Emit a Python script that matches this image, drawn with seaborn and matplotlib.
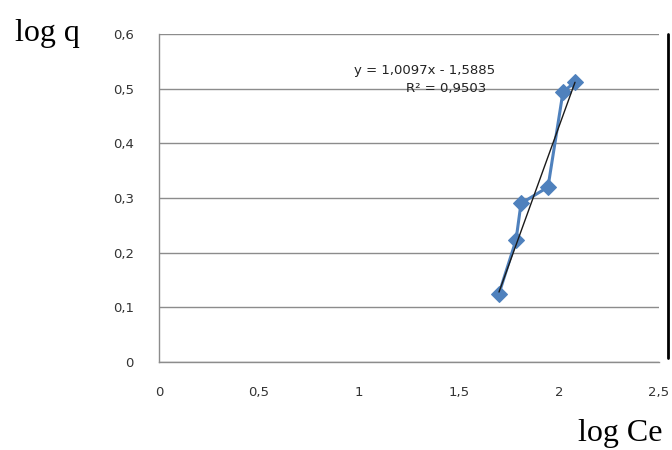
import matplotlib
matplotlib.use("Agg")
import matplotlib.pyplot as plt
import seaborn as sns
import numpy as np
import pandas as pd
from matplotlib.lines import Line2D

log_ce = [1.70, 1.785, 1.81, 1.945, 2.02, 2.08]
log_q = [0.125, 0.223, 0.290, 0.320, 0.494, 0.512]
slope = 1.0097
intercept = -1.5885
x_ticks = [0, 0.5, 1, 1.5, 2, 2.5]
x_labels = ["0", "0,5", "1", "1,5", "2", "2,5"]
y_ticks = [0, 0.1, 0.2, 0.3, 0.4, 0.5, 0.6]
y_labels = ["0", "0,1", "0,2", "0,3", "0,4", "0,5", "0,6"]

sns.set_theme(style="white")
plt.rcParams['font.family'] = ['DejaVu Sans']

fig = plt.figure(figsize=(6.72, 4.5), dpi=100)
ax = fig.add_axes([159/672, 1-362/450, (659-159)/672, (362-34)/450])

df = pd.DataFrame({"x": log_ce, "y": log_q})
sns.lineplot(data=df, x="x", y="y", ax=ax, color="#4F81BD", linewidth=2.2,
             marker="D", markersize=8, markeredgecolor="#4F81BD", sort=False)
tx = np.array([min(log_ce), max(log_ce)])
ax.plot(tx, slope*tx + intercept, color="#1a1a1a", linewidth=1.0, zorder=5)

ax.set_xlim(0, 2.5)
ax.set_ylim(0, 0.6)
ax.set_xticks(x_ticks)
ax.set_xticklabels(x_labels)
ax.set_yticks(y_ticks)
ax.set_yticklabels(y_labels)
ax.set_xlabel("")
ax.set_ylabel("")
ax.yaxis.grid(True, color="#8c8c8c", linewidth=1)
ax.xaxis.grid(False)
for s in ["top", "right"]:
    ax.spines[s].set_visible(False)
for s in ["left", "bottom"]:
    ax.spines[s].set_color("#8c8c8c")
    ax.spines[s].set_linewidth(1)
ax.tick_params(axis="both", which="both", labelsize=9.5, labelcolor="#333333",
               color="#8c8c8c", width=1)
ax.tick_params(axis="x", direction="inout", length=6, pad=14)
ax.tick_params(axis="y", direction="out", length=6, pad=12)

ax.text(0.532, 0.890, "y = 1,0097x - 1,5885", transform=ax.transAxes,
        ha="center", va="center", fontsize=9.5, color="#222222")
ax.text(0.574, 0.835, "R² = 0,9503", transform=ax.transAxes,
        ha="center", va="center", fontsize=9.5, color="#222222")

fig.text(15/672, 1-33/450, "log q", family=["Liberation Serif"], fontsize=23,
         ha="left", va="center", color="black")
fig.text(578/672, 1-434/450, "log Ce", family=["Liberation Serif"], fontsize=23,
         ha="left", va="center", color="black")
fig.add_artist(Line2D([668/672, 668/672], [1-34/450, 1-358/450],
                      transform=fig.transFigure, color="black", linewidth=2))

fig.savefig("out.png", dpi=100)
